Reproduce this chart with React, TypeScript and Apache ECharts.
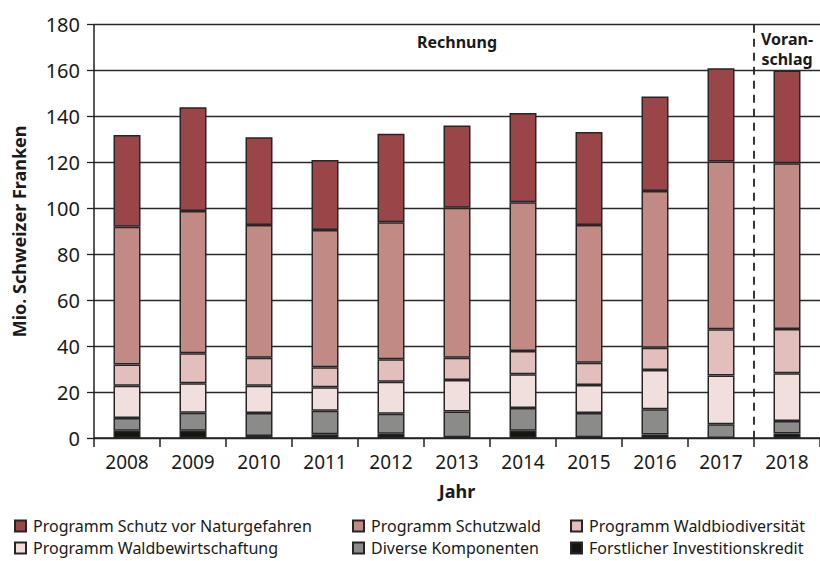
import React, { useEffect, useRef } from "react";
import * as echarts from "echarts";

const years = ["2008", "2009", "2010", "2011", "2012", "2013", "2014", "2015", "2016", "2017", "2018"];
const schutzNaturgefahren = [40.0, 45.1, 38.2, 30.5, 38.5, 35.8, 38.8, 40.5, 41.1, 40.6, 40.3];
const schutzwald = [60.0, 62.0, 57.8, 59.8, 59.7, 65.3, 64.8, 60.0, 68.3, 73.0, 72.2];
const waldbiodiversitaet = [9.2, 13.1, 12.2, 8.7, 9.8, 9.7, 10.1, 9.7, 9.7, 20.2, 19.3];
const waldbewirtschaftung = [14.1, 12.8, 11.9, 10.2, 13.9, 13.8, 14.7, 12.2, 17.1, 21.2, 20.8];
const diverseKomponenten = [5.5, 7.8, 10.0, 10.3, 8.7, 11.2, 9.9, 10.6, 11.0, 6.0, 5.4];
const investitionskredit = [3.2, 3.2, 0.9, 1.6, 1.9, 0.3, 3.2, 0.3, 1.5, 0, 2.0];

const yMin = 0;
const yMax = 180;
const yInterval = 20;

const names = {
  a: "Programm Schutz vor Naturgefahren",
  b: "Programm Schutzwald",
  c: "Programm Waldbiodiversität",
  d: "Programm Waldbewirtschaftung",
  e: "Diverse Komponenten",
  f: "Forstlicher Investitionskredit",
};

const FONT = "'Noto Sans', sans-serif";
const TXT = "#1a1a1a";

export default function App() {
  const ref = useRef<HTMLDivElement>(null);
  useEffect(() => {
    if (!ref.current) return;
    const chart = echarts.init(ref.current, null, { renderer: "svg" });
    const bar = (name: string, data: number[], color: string) => ({
      name,
      type: "bar",
      stack: "total",
      data,
      barWidth: 27,
      itemStyle: { color, borderColor: "#262626", borderWidth: 1.5 },
      emphasis: { disabled: true },
    });
    const leg = (name: string, left: number, top: number) => ({
      orient: "horizontal",
      left,
      top,
      itemWidth: 11,
      itemHeight: 11,
      icon: "rect",
      textStyle: { fontFamily: FONT, fontSize: 16, lineHeight: 18, color: TXT, padding: [0, 0, 0, 2] },
      selectedMode: false,
      padding: 0,
      data: [name],
    });
    const r1 = 517;
    const r2 = 539;
    chart.setOption({
      animation: false,
      textStyle: { fontFamily: FONT },
      grid: { left: 94, right: 0, top: 24.7, bottom: 123 },
      legend: [
        leg(names.a, 14, r1),
        leg(names.d, 14, r2),
        leg(names.b, 352, r1),
        leg(names.e, 352, r2),
        leg(names.c, 570, r1),
        leg(names.f, 570, r2),
      ],
      xAxis: {
        type: "category",
        data: years,
        boundaryGap: true,
        name: "Jahr",
        nameLocation: "middle",
        nameGap: 44,
        nameTextStyle: { fontFamily: FONT, fontSize: 18, fontWeight: "bold", color: TXT },
        axisLine: { lineStyle: { color: "#222", width: 1.5 } },
        axisTick: { show: true, length: 9, lineStyle: { color: "#222", width: 1.5 } },
        axisLabel: { fontFamily: FONT, fontSize: 19, color: TXT, margin: 14 },
      },
      yAxis: {
        type: "value",
        min: yMin,
        max: yMax,
        interval: yInterval,
        name: "Mio. Schweizer Franken",
        nameLocation: "middle",
        nameGap: 66,
        nameTextStyle: { fontFamily: FONT, fontSize: 18, fontWeight: "bold", color: TXT },
        axisLine: { show: true, lineStyle: { color: "#222", width: 1.5 } },
        axisTick: { show: true, length: 7, lineStyle: { color: "#222", width: 1.3 } },
        axisLabel: { fontFamily: FONT, fontSize: 20, color: TXT, margin: 14 },
        splitLine: { show: true, lineStyle: { color: "#2a2a2a", width: 1.3 } },
      },
      series: [
        bar(names.f, investitionskredit, "#15150f"),
        bar(names.e, diverseKomponenten, "#8b8c8a"),
        bar(names.d, waldbewirtschaftung, "#f1dfde"),
        bar(names.c, waldbiodiversitaet, "#e2bebd"),
        bar(names.b, schutzwald, "#c28a85"),
        bar(names.a, schutzNaturgefahren, "#9a4547"),
      ],
    });
    const x17 = chart.convertToPixel({ xAxisIndex: 0 }, "2017") as number;
    const x18 = chart.convertToPixel({ xAxisIndex: 0 }, "2018") as number;
    const x13 = chart.convertToPixel({ xAxisIndex: 0 }, "2013") as number;
    const xm = (x17 + x18) / 2;
    const yTop = chart.convertToPixel({ yAxisIndex: 0 }, yMax) as number;
    const yBot = chart.convertToPixel({ yAxisIndex: 0 }, yMin) as number;
    const yRech = chart.convertToPixel({ yAxisIndex: 0 }, 172.5) as number;
    const yVor = chart.convertToPixel({ yAxisIndex: 0 }, 169.5) as number;
    chart.setOption({
      graphic: [
        {
          type: "line",
          shape: { x1: xm, y1: yTop, x2: xm, y2: yBot },
          style: { stroke: "#222", lineWidth: 1.8, lineDash: [8, 6] },
          z: 10,
        },
        {
          type: "text",
          x: x13,
          y: yRech,
          style: {
            text: "Rechnung",
            fontFamily: FONT,
            fontSize: 16,
            fontWeight: "bold",
            fill: TXT,
            align: "center",
            verticalAlign: "middle",
          },
        },
        {
          type: "text",
          x: x18,
          y: yVor,
          style: {
            text: "Voran-\nschlag",
            fontFamily: FONT,
            fontSize: 16,
            fontWeight: "bold",
            lineHeight: 20,
            fill: TXT,
            align: "center",
            verticalAlign: "middle",
          },
        },
      ],
    });
    return () => chart.dispose();
  }, []);
  return (
    <div
      ref={ref}
      style={{ position: "fixed", left: 0, top: 0, width: 820, height: 561, background: "#fff" }}
    />
  );
}
